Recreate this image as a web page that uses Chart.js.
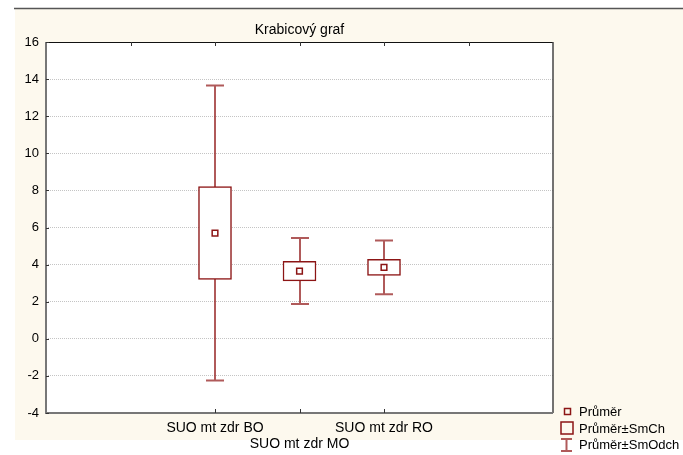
<!DOCTYPE html>
<html>
<head>
<meta charset="utf-8">
<script src="https://cdn.jsdelivr.net/npm/chart.js@4/dist/chart.umd.min.js"></script>
<style>
  html, body { margin: 0; padding: 0; background: #fff; overflow: hidden; }
  #wrap { width: 683px; height: 455px; position: relative; }
</style>
</head>
<body>
<div id="wrap"><canvas id="box"></canvas></div>
<script>
// ---------- data ----------
const groups = ["SUO mt zdr BO", "SUO mt zdr MO", "SUO mt zdr RO"];
const groupPos = [2, 3, 4];
const means = [5.7, 3.65, 3.85];
const stdErr = [2.5, 0.53, 0.44];   // SmCh
const stdDev = [7.95, 1.78, 1.45];  // SmOdch
const yTicks = [-4, -2, 0, 2, 4, 6, 8, 10, 12, 14, 16];

const RED = "#8c1515";
const WHISKER = "rgba(150,35,35,0.75)";
const CREAM = "#fdf9ee";
const FONT = "'Liberation Sans', Arial, sans-serif";

// ---------- helpers ----------
const boxData = groupPos.map((x, i) => ({ x, y: [means[i] - stdErr[i], means[i] + stdErr[i]] }));
const meanData = groupPos.map((x, i) => ({ x, y: means[i] }));

// page background, frame, ticks, title and legend
const frame = {
  id: "frame",
  beforeDraw(chart) {
    const { ctx, chartArea: a } = chart;
    ctx.save();
    ctx.fillStyle = "#fff";
    ctx.fillRect(0, 0, chart.width, chart.height);
    ctx.fillStyle = CREAM;
    ctx.fillRect(15, 9, chart.width - 15, 431);
    ctx.strokeStyle = "#555";
    ctx.lineWidth = 1.5;
    ctx.beginPath();
    ctx.moveTo(14, 8.5);
    ctx.lineTo(chart.width, 8.5);
    ctx.stroke();
    ctx.fillStyle = "#fff";
    ctx.fillRect(a.left, a.top, a.right - a.left, a.bottom - a.top);

    ctx.fillStyle = "#000";
    ctx.font = "14px " + FONT;
    ctx.textAlign = "center";
    ctx.textBaseline = "middle";
    ctx.fillText("Krabicový graf", (a.left + a.right) / 2, 30);
    ctx.restore();
  },
  afterDraw(chart) {
    const { ctx, chartArea: a, scales } = chart;
    const xs = scales.x, ys = scales.y;
    ctx.save();
    // frame
    ctx.strokeStyle = "#111";
    ctx.lineWidth = 1;
    ctx.beginPath();
    ctx.moveTo(a.left, a.top + 0.5);
    ctx.lineTo(a.right, a.top + 0.5);
    ctx.stroke();
    ctx.strokeStyle = "#444";
    ctx.lineWidth = 1.5;
    ctx.beginPath();
    ctx.moveTo(a.right, a.top);
    ctx.lineTo(a.right, a.bottom);
    ctx.stroke();
    ctx.strokeStyle = "#777";
    ctx.lineWidth = 2;
    ctx.beginPath();
    ctx.moveTo(a.left, a.top);
    ctx.lineTo(a.left, a.bottom);
    ctx.lineTo(a.right, a.bottom);
    ctx.stroke();

    // inward tick marks
    ctx.strokeStyle = "#333";
    ctx.lineWidth = 1;
    ctx.beginPath();
    [1, 2, 3, 4, 5].forEach((v) => {
      const px = Math.round(xs.getPixelForValue(v)) + 0.5;
      ctx.moveTo(px, a.top);
      ctx.lineTo(px, a.top + 4);
    });
    groupPos.forEach((v) => {
      const px = Math.round(xs.getPixelForValue(v)) + 0.5;
      ctx.moveTo(px, a.bottom);
      ctx.lineTo(px, a.bottom - 4);
    });
    yTicks.forEach((v) => {
      const py = Math.round(ys.getPixelForValue(v)) + 0.5;
      ctx.moveTo(a.left, py);
      ctx.lineTo(a.left + 3, py);
    });
    ctx.stroke();

    // legend
    ctx.strokeStyle = RED;
    ctx.lineWidth = 1.5;
    ctx.strokeRect(564.5, 408.5, 6, 6);
    ctx.strokeRect(561, 422, 12, 12);
    ctx.strokeStyle = WHISKER;
    ctx.lineWidth = 2;
    ctx.beginPath();
    ctx.moveTo(566.5, 439);
    ctx.lineTo(566.5, 451);
    ctx.moveTo(561, 439);
    ctx.lineTo(572, 439);
    ctx.moveTo(561, 451);
    ctx.lineTo(572, 451);
    ctx.stroke();
    ctx.fillStyle = "#000";
    ctx.font = "13px " + FONT;
    ctx.textAlign = "left";
    ctx.textBaseline = "middle";
    ctx.fillText("Průměr", 579, 412);
    ctx.fillText("Průměr±SmCh", 579, 429);
    ctx.fillText("Průměr±SmOdch", 579, 445);
    ctx.restore();
  }
};

// mean ± SD whiskers, drawn under the boxes
const whiskers = {
  id: "whiskers",
  beforeDatasetsDraw(chart) {
    const { ctx, scales } = chart;
    ctx.save();
    ctx.strokeStyle = WHISKER;
    ctx.lineWidth = 2;
    groupPos.forEach((v, i) => {
      const px = Math.round(scales.x.getPixelForValue(v));
      const top = scales.y.getPixelForValue(means[i] + stdDev[i]);
      const bot = scales.y.getPixelForValue(means[i] - stdDev[i]);
      ctx.beginPath();
      ctx.moveTo(px, top);
      ctx.lineTo(px, bot);
      ctx.moveTo(px - 9, top);
      ctx.lineTo(px + 9, top);
      ctx.moveTo(px - 9, bot);
      ctx.lineTo(px + 9, bot);
      ctx.stroke();
    });
    ctx.restore();
  }
};

new Chart(document.getElementById("box"), {
  data: {
    datasets: [
      {
        type: "scatter",
        label: "Průměr",
        data: meanData,
        order: 0,
        pointStyle: "rect",
        pointRadius: 4,
        pointHoverRadius: 4,
        backgroundColor: "#fff",
        borderColor: RED,
        borderWidth: 1.5,
      },
      {
        type: "bar",
        label: "Průměr±SmCh",
        data: boxData,
        order: 1,
        barThickness: 33,
        backgroundColor: "#fff",
        borderColor: RED,
        borderWidth: 1.5,
        borderSkipped: false,
      },
    ],
  },
  options: {
    responsive: true,
    maintainAspectRatio: false,
    animation: false,
    events: [],
    layout: { padding: { left: 0, top: 42, right: 130, bottom: 0 } },
    plugins: { legend: { display: false }, tooltip: { enabled: false }, title: { display: false } },
    scales: {
      x: {
        type: "linear",
        position: "bottom",
        min: 0,
        max: 6,
        offset: false,
        grid: { display: false, drawTicks: false, offset: false },
        border: { display: false },
        afterFit: (s) => { s.height = 42; },
        afterBuildTicks: (s) => { s.ticks = groupPos.map((v) => ({ value: v })); },
        ticks: {
          autoSkip: false,
          maxRotation: 0,
          padding: 7,
          color: "#000",
          font: { family: FONT, size: 14, lineHeight: 1.15 },
          callback: (v) => {
            const i = groupPos.indexOf(v);
            if (i < 0) return "";
            return i === 1 ? ["", groups[i]] : groups[i];
          },
        },
      },
      y: {
        min: -4,
        max: 16,
        grid: {
          drawTicks: false,
          color: (c) => (c.tick && (c.tick.value === -4 || c.tick.value === 16) ? "rgba(0,0,0,0)" : "#c4c4c4"),
          lineWidth: 1,
        },
        border: { display: false, dash: [1, 1] },
        afterFit: (s) => { s.width = 46; },
        afterBuildTicks: (s) => { s.ticks = yTicks.map((v) => ({ value: v })); },
        ticks: {
          padding: 7,
          color: "#000",
          font: { family: FONT, size: 13 },
        },
      },
    },
  },
  plugins: [frame, whiskers],
});
</script>
</body>
</html>
